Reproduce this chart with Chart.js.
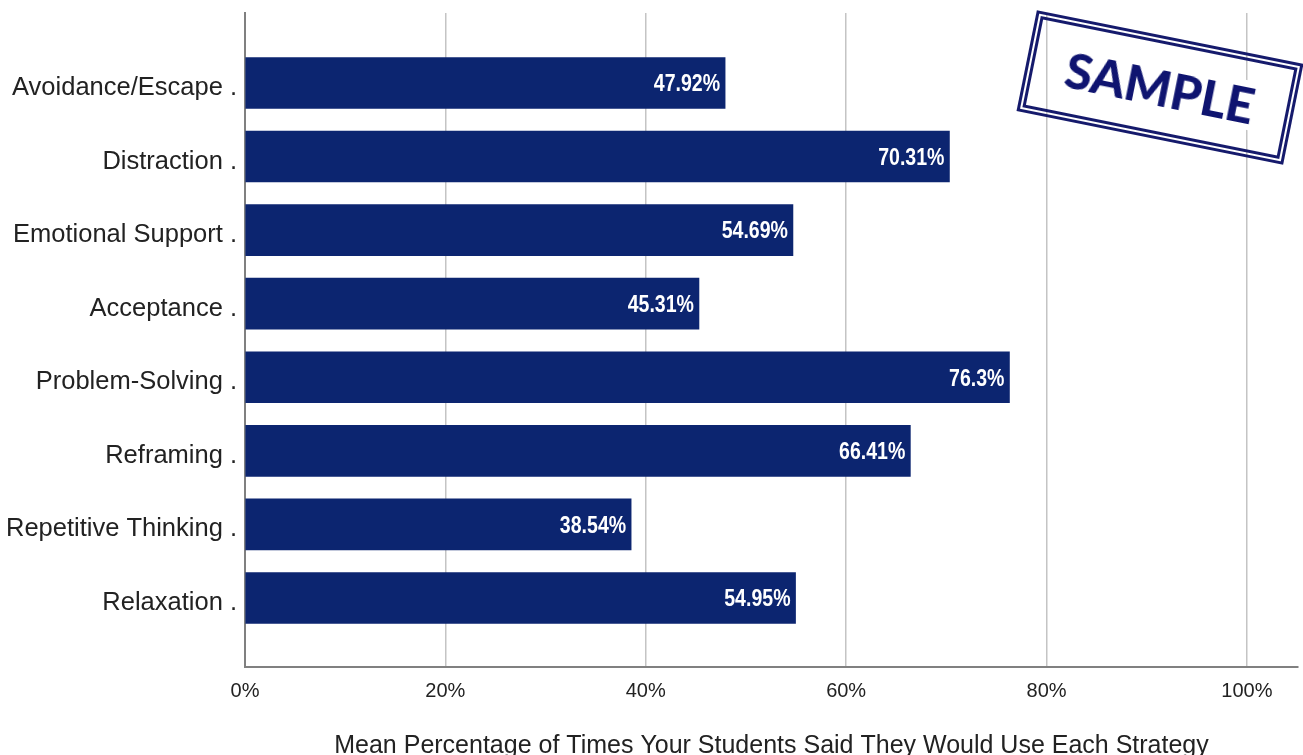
<!DOCTYPE html>
<html><head><meta charset="utf-8">
<script src="https://cdn.jsdelivr.net/npm/chart.js@4.4.1/dist/chart.umd.min.js"></script>
<style>
html,body{margin:0;padding:0;background:#fff;}
#wrap{position:relative;width:1303px;height:755px;overflow:hidden;}
canvas{display:block;}
#stamp{position:absolute;left:1024px;top:36px;width:272px;height:103px;box-sizing:border-box;border:8px double #151a6c;transform:rotate(11.4deg);display:flex;align-items:center;justify-content:center;}
#stamp span{font-family:Lato,'Open Sans',sans-serif;font-weight:900;font-size:49px;color:#0f1470;line-height:1;background:#fff;padding:0 2px;}
</style></head>
<body>
<div id="wrap">
<canvas id="c" width="1303" height="755"></canvas>
<div id="stamp"><span>SAMPLE</span></div>
</div>
<script>
const categories = ['Avoidance/Escape .','Distraction .','Emotional Support .','Acceptance .','Problem-Solving .','Reframing .','Repetitive Thinking .','Relaxation .'];
const values = [47.92,70.31,54.69,45.31,76.3,66.41,38.54,54.95];
const valueLabels = ['47.92%','70.31%','54.69%','45.31%','76.3%','66.41%','38.54%','54.95%'];
const xTicks = [0,20,40,60,80,100];
const xTitle = 'Mean Percentage of Times Your Students Said They Would Use Each Strategy';

const FAMILY = "'Liberation Sans', Arial, sans-serif";

const labelPlugin = {
  id: 'barLabels',
  afterDatasetsDraw(chart) {
    const ctx = chart.ctx;
    const meta = chart.getDatasetMeta(0);
    ctx.save();
    ctx.fillStyle = '#ffffff';
    ctx.font = "bold 23px " + FAMILY;
    ctx.textAlign = 'right';
    ctx.textBaseline = 'middle';
    meta.data.forEach((bar, i) => {
      ctx.save();
      ctx.translate(bar.x - 5, bar.y + 2);
      ctx.scale(0.85, 1);
      ctx.fillText(valueLabels[i], 0, 0);
      ctx.restore();
    });
    ctx.restore();
  }
};

new Chart(document.getElementById('c'), {
  type: 'bar',
  data: {
    datasets: [{
      data: values.map((v, i) => ({x: v, y: i})),
      backgroundColor: '#0c2570',
      borderWidth: 0,
      barThickness: 51
    }]
  },
  options: {
    indexAxis: 'y',
    responsive: false,
    animation: false,
    layout: {padding: {top: 13, right: 5, left: 0, bottom: 0}},
    plugins: {legend: {display: false}, tooltip: {enabled: false}},
    scales: {
      x: {
        type: 'linear',
        min: 0,
        max: 105.1,
        afterBuildTicks: s => { s.ticks = xTicks.map(v => ({value: v})); },
        afterFit: s => { s.height = 88; s.paddingLeft = 0; s.paddingRight = 0; },
        ticks: {callback: v => v + '%', font: {size: 20, family: FAMILY}, color: '#222', padding: 12, autoSkip: false, maxRotation: 0},
        grid: {color: c => (c.tick && c.tick.value === 0) ? '#808080' : '#c4c4c4', lineWidth: 1.5, drawTicks: false},
        border: {display: true, color: '#808080', width: 2},
        title: {display: true, text: xTitle, font: {size: 25, family: FAMILY}, color: '#222', padding: {top: 0, bottom: -6}}
      },
      y: {
        type: 'linear',
        reverse: true,
        offset: false,
        min: -0.951,
        max: 7.938,
        afterBuildTicks: s => { s.ticks = categories.map((c, i) => ({value: i})); },
        afterFit: s => { s.width = 245; s.paddingTop = 0; s.paddingBottom = 0; },
        ticks: {callback: v => categories[v], font: {size: 25.5, family: FAMILY}, color: '#222', padding: 8, autoSkip: false, labelOffset: 5},
        grid: {display: false, drawTicks: false},
        border: {display: true, color: '#808080', width: 2}
      }
    }
  },
  plugins: [labelPlugin]
});
</script>
</body></html>
